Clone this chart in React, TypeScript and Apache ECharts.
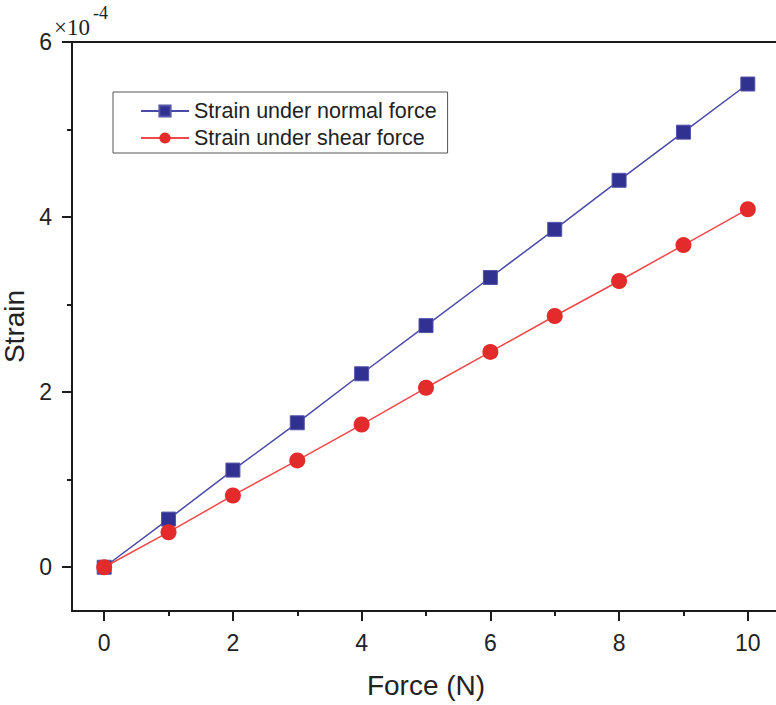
import React, { useEffect, useRef } from "react";
import * as echarts from "echarts";

// Force (N)
const forces = [0, 1, 2, 3, 4, 5, 6, 7, 8, 9, 10];
// Strain (x10^-4)
const normalStrain = [0, 0.55, 1.11, 1.65, 2.21, 2.76, 3.31, 3.86, 4.42, 4.97, 5.52];
const shearStrain = [0, 0.4, 0.82, 1.22, 1.63, 2.05, 2.46, 2.87, 3.27, 3.68, 4.09];

const xMajorTicks = [0, 2, 4, 6, 8, 10];
const xMinorTicks = [1, 3, 5, 7, 9];
const yMajorTicks = [0, 2, 4, 6];
const yMinorTicks = [1, 3, 5];

const seriesNames = ["Strain under normal force", "Strain under shear force"];

const FONT = "Liberation Sans, Arial, sans-serif";
const SERIF = "Liberation Serif, Times New Roman, serif";
const AXIS_COLOR = "#1c1c1c";
const TEXT_COLOR = "#222222";

export default function App() {
  const ref = useRef<HTMLDivElement>(null);

  useEffect(() => {
    document.body.style.margin = "0";
    if (!ref.current) return;
    const chart = echarts.init(ref.current, null, { renderer: "svg" });

    const tickStyle = { color: AXIS_COLOR, width: 2 };

    chart.setOption({
      animation: false,
      backgroundColor: "#ffffff",
      title: {
        text: "{a|×10}{b|-4}",
        left: 54,
        top: 4,
        padding: 0,
        textStyle: {
          fontWeight: "normal",
          rich: {
            a: { fontFamily: SERIF, fontSize: 23, fontWeight: "normal", color: TEXT_COLOR, padding: [12, 0, 0, 0] },
            b: { fontFamily: SERIF, fontSize: 18, fontWeight: "normal", color: TEXT_COLOR, verticalAlign: "top", padding: [0, 0, 10, 3] },
          },
        },
      },
      grid: {
        left: 72,
        top: 42,
        width: 708,
        bottom: 94,
        outerBoundsMode: "none",
        containLabel: false,
        show: false,
      },
      legend: {
        orient: "vertical",
        left: 113,
        top: 92,
        padding: [8, 11, 4, 27],
        itemWidth: 48,
        itemHeight: 14,
        itemGap: 5,
        borderColor: "#555555",
        borderWidth: 1,
        borderRadius: 0,
        backgroundColor: "#ffffff",
        textStyle: { fontFamily: FONT, fontSize: 21.5, lineHeight: 21, color: TEXT_COLOR },
        data: seriesNames,
      },
      xAxis: [
        {
          type: "value",
          min: -0.5,
          max: 10.5,
          position: "bottom",
          axisLine: { show: true, onZero: false, lineStyle: tickStyle },
          splitLine: { show: false },
          name: "Force (N)",
          nameLocation: "middle",
          nameGap: 60,
          nameTextStyle: { fontFamily: FONT, fontSize: 28, color: TEXT_COLOR },
          axisTick: { show: true, inside: false, length: 10, customValues: xMajorTicks, lineStyle: tickStyle },
          axisLabel: { customValues: xMajorTicks, margin: 20, fontFamily: FONT, fontSize: 23, color: TEXT_COLOR },
        },
        {
          type: "value",
          min: -0.5,
          max: 10.5,
          position: "bottom",
          axisLine: { show: false, onZero: false },
          splitLine: { show: false },
          axisTick: { show: true, inside: false, length: 5, customValues: xMinorTicks, lineStyle: tickStyle },
          axisLabel: { show: false },
        },
        {
          type: "value",
          min: -0.5,
          max: 10.5,
          position: "top",
          axisLine: { show: true, onZero: false, lineStyle: tickStyle },
          splitLine: { show: false },
          axisTick: { show: false },
          axisLabel: { show: false },
        },
      ],
      yAxis: [
        {
          type: "value",
          min: -0.5,
          max: 6,
          position: "left",
          axisLine: { show: true, onZero: false, lineStyle: tickStyle },
          splitLine: { show: false },
          name: "Strain",
          nameLocation: "middle",
          nameGap: 41,
          nameTextStyle: { fontFamily: FONT, fontSize: 28, color: TEXT_COLOR },
          axisTick: { show: true, inside: false, length: 10, customValues: yMajorTicks, lineStyle: tickStyle },
          axisLabel: { customValues: yMajorTicks, margin: 20, fontFamily: FONT, fontSize: 23, color: TEXT_COLOR },
        },
        {
          type: "value",
          min: -0.5,
          max: 6,
          position: "left",
          axisLine: { show: false, onZero: false },
          splitLine: { show: false },
          axisTick: { show: true, inside: false, length: 5, customValues: yMinorTicks, lineStyle: tickStyle },
          axisLabel: { show: false },
        },
      ],
      series: [
        {
          name: seriesNames[0],
          type: "line",
          xAxisIndex: 0,
          yAxisIndex: 0,
          data: forces.map((f, i) => [f, normalStrain[i]]),
          symbol: "rect",
          symbolSize: 14,
          lineStyle: { color: "#4a4aa8", width: 1.5 },
          itemStyle: { color: "#313191", borderColor: "#5555aa", borderWidth: 1 },
          z: 3,
        },
        {
          name: seriesNames[1],
          type: "line",
          xAxisIndex: 0,
          yAxisIndex: 0,
          data: forces.map((f, i) => [f, shearStrain[i]]),
          symbol: "circle",
          symbolSize: 16,
          lineStyle: { color: "#f04848", width: 1.5 },
          itemStyle: { color: "#e42b2b" },
          z: 4,
        },
      ],
    });

    return () => chart.dispose();
  }, []);

  return <div ref={ref} style={{ width: 776, height: 705 }} />;
}
